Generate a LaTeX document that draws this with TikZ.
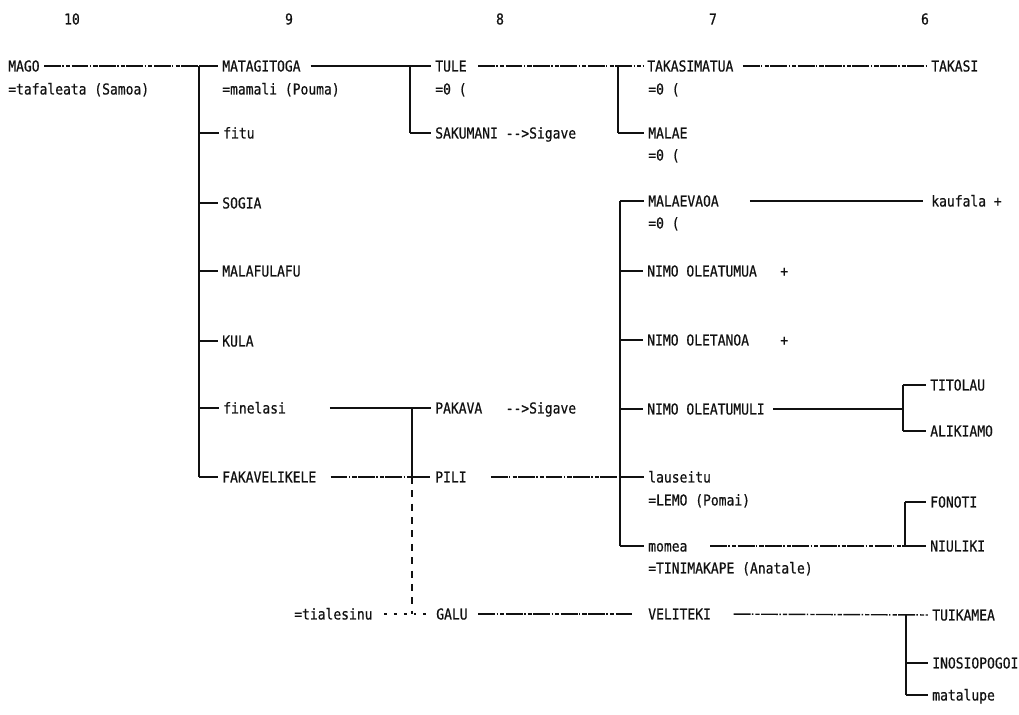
\documentclass[tikz,border=0pt]{standalone}
\usepackage{fontspec}
\usepackage{tikz}
\usetikzlibrary{calc}
\newfontfamily\dotfont[FakeStretch=0.864,FakeBold=0.6]{DejaVu Sans Mono}
\newcommand\dotsize{\fontsize{10.7pt}{12pt}\selectfont}
\definecolor{ink}{HTML}{111111}
\tikzset{
  % --- nodes
  nm/.style  = {anchor=west, inner sep=0pt, text height=7.8pt, text depth=0pt,
                font=\dotfont\dotsize, text=ink},
  gen/.style = {nm, anchor=center},
  % --- edges
  lnk/.style = {draw=ink, line width=1pt},
  tick/.style= {lnk, shorten >=3pt},
  brk/.style = {lnk, dash pattern=on 12pt off 1pt on 1pt off 1.5pt on 3pt off 1pt},
  dsh/.style = {lnk, dash pattern=on 5pt off 4.5pt},
  dts/.style = {lnk, dash pattern=on 2pt off 5pt},
}

\begin{document}
\begin{tikzpicture}[x=0.025cm, y=-0.025cm]
  \path[use as bounding box] (0,0) rectangle (1019,715);
  % generations
  \node[gen] (g10) at (72,19)  {10};
  \node[gen] (g9)  at (289,19) {9};
  \node[gen] (g8)  at (500,19) {8};
  \node[gen] (g7)  at (713,19) {7};
  \node[gen] (g6)  at (925,19) {6};
  % 10
  \node[nm] (mago)  at (8,66) {MAGO};
  \node[nm] (magow) at (8,89) {=tafaleata (Samoa)};
  % 9
  \node[nm] (matag)  at (222,66)  {MATAGITOGA};
  \node[nm] (matagw) at (222,89)  {=mamali (Pouma)};
  \node[nm] (fitu)   at (223,133) {fitu};
  \node[nm] (sogia)  at (222,203) {SOGIA};
  \node[nm] (malaf)  at (222,271) {MALAFULAFU};
  \node[nm] (kula)   at (222,341) {KULA};
  \node[nm] (fine)   at (223,408) {finelasi};
  \node[nm] (fakav)  at (222,477) {FAKAVELIKELE};
  \node[nm] (tiales) at (294,614) {=tialesinu};
  % 8
  \node[nm] (tule)   at (435,66)  {TULE};
  \node[nm] (tulew)  at (435,89)  {=0 (};
  \node[nm] (saku)   at (435,133) {SAKUMANI -{}-{}>Sigave};
  \node[nm] (pakava) at (435,408) {PAKAVA~~~-{}-{}>Sigave};
  \node[nm] (pili)   at (435,477) {PILI};
  \node[nm] (galu)   at (436,614) {GALU};
  % 7
  \node[nm] (takam)   at (647,66)  {TAKASIMATUA};
  \node[nm] (takamw)  at (648,89)  {=0 (};
  \node[nm] (malae)   at (648,133) {MALAE};
  \node[nm] (malaew)  at (648,155) {=0 (};
  \node[nm] (malaev)  at (648,201) {MALAEVAOA};
  \node[nm] (malaevw) at (648,223) {=0 (};
  \node[nm] (nimoa)   at (647,271) {NIMO OLEATUMUA~~~+};
  \node[nm] (nimob)   at (647,340) {NIMO OLETANOA~~~~+};
  \node[nm] (nimoc)   at (647,409) {NIMO OLEATUMULI};
  \node[nm] (lause)   at (648,477) {lauseitu};
  \node[nm] (lausew)  at (648,500) {=LEMO (Pomai)};
  \node[nm] (momea)   at (648,546) {momea};
  \node[nm] (momeaw)  at (648,568) {=TINIMAKAPE (Anatale)};
  \node[nm] (veli)    at (648,614) {VELITEKI};
  % 6
  \node[nm] (takasi) at (931,66)  {TAKASI};
  \node[nm] (kauf)   at (931,201) {kaufala +};
  \node[nm] (titol)  at (930,385) {TITOLAU};
  \node[nm] (alik)   at (930,431) {ALIKIAMO};
  \node[nm] (fonoti) at (930,502) {FONOTI};
  \node[nm] (niul)   at (930,546) {NIULIKI};
  \node[nm] (tuik)   at (932,615) {TUIKAMEA};
  \node[nm] (inos)   at (932,663) {INOSIOPOGOI};
  \node[nm] (matal)  at (932,695) {matalupe};
  % bars
  \coordinate (b9)  at (199,0);
  \coordinate (b8)  at (410,0);
  \coordinate (b8b) at (412,0);
  \coordinate (b7)  at (618,0);
  \coordinate (b7b) at (620,0);
  \coordinate (b6)  at (903,0);
  \coordinate (b6b) at (905,0);
  \coordinate (b6c) at (906,0);

  \draw[brk, shorten <=3pt] (mago.east) -- (mago.east -| b9);
  \draw[lnk] (matag.west -| b9) -- (fakav.west -| b9);
  \foreach \c in {matag,fitu,sogia,malaf,kula,fine,fakav}
    \draw[tick] (\c.west -| b9) -- (\c.west);

  \draw[lnk, shorten <=7pt, shorten >=3pt] (matag.east) -- (tule.west);
  \draw[lnk] (tule.west -| b8) -- (saku.west -| b8);
  \draw[tick] (saku.west -| b8) -- (saku.west);

  \draw[brk, shorten <=8pt, shorten >=3pt] (tule.east) -- (takam.west);
  \draw[lnk] (takam.west -| b7) -- (malae.west -| b7);
  \draw[tick] (malae.west -| b7) -- (malae.west);
  \draw[brk, shorten <=6.5pt, shorten >=3pt] (takam.east) -- (takasi.west);

  \draw[lnk, shorten <=31pt, shorten >=3pt] (fine.east) -- (pakava.west);
  \draw[brk, shorten <=10pt, shorten >=3pt] (fakav.east) -- (pili.west);
  \draw[lnk] (pakava.west -| b8b) -- (pili.west -| b8b);
  \draw[dsh] (pili.west -| b8b) -- (galu.west -| b8b);
  \draw[dts, shorten <=8pt, shorten >=3pt] (tiales.east) -- (galu.west);

  \draw[brk, shorten <=17pt] (pili.east) -- (lause.west -| b7b);
  \draw[lnk] (malaev.west -| b7b) -- (momea.west -| b7b);
  \foreach \c in {malaev,nimoa,nimob,nimoc,lause,momea}
    \draw[tick] (\c.west -| b7b) -- (\c.west);
  \draw[lnk, shorten <=22pt, shorten >=6pt] (malaev.east) -- (kauf.west);

  \draw[lnk, shorten <=6pt] (nimoc.east) -- (nimoc.east -| b6);
  \draw[lnk] (titol.west -| b6) -- (alik.west -| b6);
  \foreach \c in {titol,alik}
    \draw[tick] (\c.west -| b6) -- (\c.west);

  \draw[brk, shorten <=16pt] (momea.east) -- (momea.east -| b6b);
  \draw[lnk] (fonoti.west -| b6b) -- (niul.west -| b6b);
  \foreach \c in {fonoti,niul}
    \draw[tick] (\c.west -| b6b) -- (\c.west);

  \draw[brk, shorten <=7.5pt, shorten >=11pt] (galu.east) -- (veli.west);
  \draw[brk, shorten <=16pt, shorten >=3pt] (veli.east) -- (tuik.west);
  \draw[lnk] (tuik.west -| b6c) -- (matal.west -| b6c);
  \foreach \c in {inos,matal}
    \draw[tick] (\c.west -| b6c) -- (\c.west);
\end{tikzpicture}
\end{document}
